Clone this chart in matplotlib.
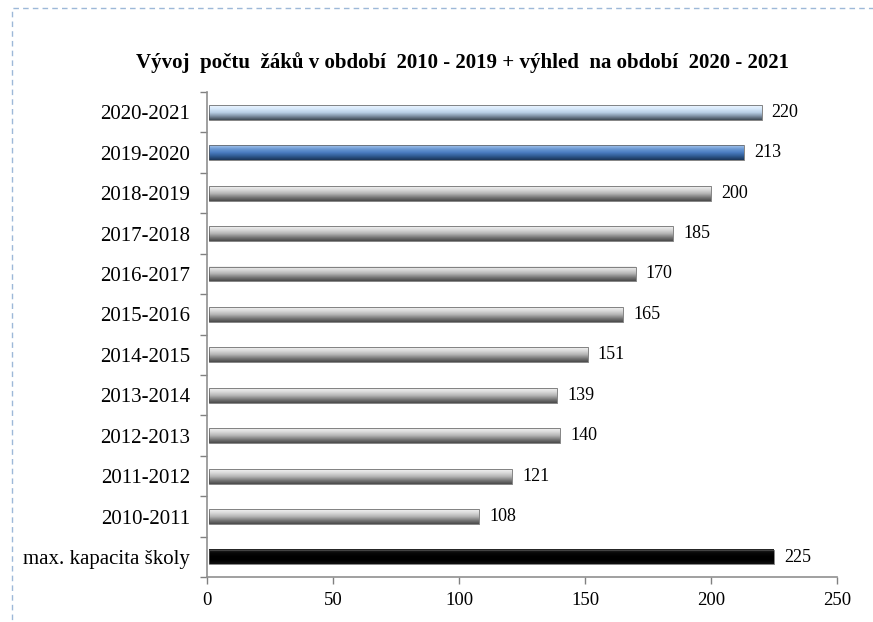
import numpy as np
import matplotlib.pyplot as plt
from matplotlib.colors import LinearSegmentedColormap
from matplotlib.patches import Rectangle

# data (bottom to top)
kategorie = ['max. kapacita školy', '2010-2011', '2011-2012', '2012-2013', '2013-2014',
             '2014-2015', '2015-2016', '2016-2017', '2017-2018', '2018-2019',
             '2019-2020', '2020-2021']
pocty = [225, 108, 121, 140, 139, 151, 165, 170, 185, 200, 213, 220]
typ = ['black', 'grey', 'grey', 'grey', 'grey', 'grey', 'grey', 'grey', 'grey', 'grey',
       'blue', 'lightblue']

# gradients top -> bottom of each cylinder-like bar
gradienty = {
    'grey': ['#f4f4f4', '#d9d9d9', '#b5b5b5', '#7a7a7a', '#4a4a4a'],
    'blue': ['#a9c8ee', '#6d9ad4', '#4a7cc0', '#2f5a90', '#1b3557'],
    'lightblue': ['#eef6ff', '#d6e8fa', '#b9cfe6', '#7d8fa3', '#3f4a55'],
    'black': ['#2a2a2a', '#080808', '#000000', '#000000', '#101010'],
}

plt.rcParams['font.family'] = 'Liberation Serif'

fig = plt.figure(figsize=(8.73, 6.22), dpi=100)
ax = fig.add_axes([0.237, 0.072, 0.722, 0.78])

y = np.arange(len(kategorie))
h = 0.37
grad = np.linspace(0, 1, 64).reshape(-1, 1)
for yi, v, t in zip(y, pocty, typ):
    cmap = LinearSegmentedColormap.from_list(t, gradienty[t])
    ax.imshow(grad, cmap=cmap, aspect='auto', origin='upper',
              extent=(1, v, yi - h / 2, yi + h / 2), zorder=2)
    ax.add_patch(Rectangle((1, yi - h / 2), v - 1, h, fill=False,
                           edgecolor='#555555', linewidth=0.5, zorder=3))
    ax.text(v + 4, yi, str(v), va='center', ha='left', fontsize=13)

ax.set_xlim(0, 250)
ax.set_ylim(-0.5, len(kategorie) - 0.5)
ax.set_xticks(np.arange(0, 251, 50))
ax.set_yticks(y)
ax.set_yticklabels(kategorie)
ax.set_yticks(np.arange(-0.5, len(kategorie), 1), minor=True)
ax.tick_params(axis='y', which='major', length=0, pad=12, labelsize=15)
ax.tick_params(axis='y', which='minor', length=5, color='#808080', width=1)
ax.tick_params(axis='x', length=5, color='#808080', width=1, labelsize=13.5, pad=6)

for s in ['top', 'right']:
    ax.spines[s].set_visible(False)
for s in ['left', 'bottom']:
    ax.spines[s].set_color('#909090')
    ax.spines[s].set_linewidth(1.2)

fig.text(0.53, 0.9, 'Vývoj  počtu  žáků v období  2010 - 2019 + výhled  na období  2020 - 2021',
         ha='center', va='center', fontsize=15, fontweight='bold')

# dashed frame around the chart area
fig.patches.append(Rectangle((0.014, -0.02), 1.0, 1.007, transform=fig.transFigure,
                             fill=False, edgecolor='#9db8d8', linestyle=(0, (4, 3)),
                             linewidth=1))

fig.savefig('out.png', dpi=100)
